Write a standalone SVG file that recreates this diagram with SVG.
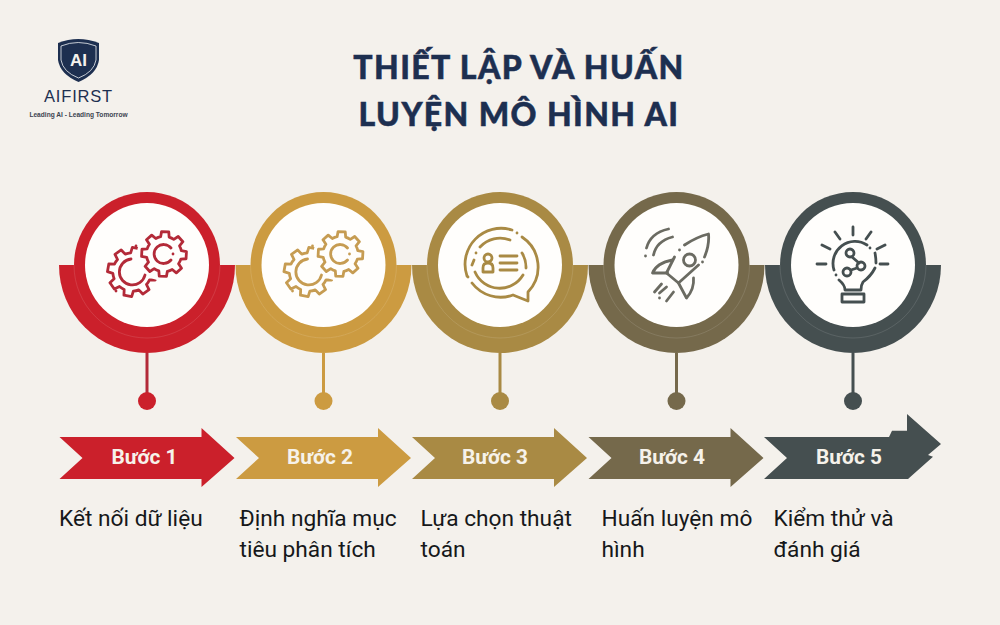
<svg xmlns="http://www.w3.org/2000/svg" width="1000" height="625" viewBox="0 0 1000 625">
<style>
.title{font-family:"Lato","Liberation Sans",sans-serif;font-weight:900;font-size:32px;fill:#1d2f50;stroke:#1d2f50;stroke-width:.5px;text-anchor:middle;letter-spacing:1.4px}
.step{font-family:"Roboto","Liberation Sans",sans-serif;font-weight:700;font-size:20.800px;fill:#f6f2ea;text-anchor:middle}
.desc{font-family:"Roboto","Liberation Sans",sans-serif;font-size:22.700px;fill:#16181a}
.white{fill:#fffefc}
.hair{fill:none;stroke:#fff;stroke-opacity:.2;stroke-width:.6}
.ico{fill:none;stroke-width:2.800;stroke-linecap:round;stroke-linejoin:round}
.s1{fill:#cb202b;stroke:#cb202b;color:#cb202b}
.s2{fill:#cc9b41;stroke:#cc9b41;color:#cc9b41}
.s3{fill:#a98a44;stroke:#a98a44;color:#a98a44}
.s4{fill:#75694b;stroke:#75694b;color:#75694b}
.s5{fill:#454f50;stroke:#454f50;color:#454f50}
#connectors line{stroke-width:3}
</style>
<defs>
<path id="half" d="M-88,0A88,88 0 0 0 88,0Z" stroke="none"/>
<path id="arrow" d="M0,0H142V-9L175,21L142,50V42H0L23,21Z" stroke="none"/>
<path id="gear" vector-effect="non-scaling-stroke" d="M-19,-76L-16,-99H16L19,-76A78,78 0 0 1 40,-67L59,-81L81,-59L67,-40A78,78 0 0 1 76,-19L99,-16V16L76,19A78,78 0 0 1 67,40L81,59L59,81L40,67A78,78 0 0 1 19,76L16,99H-16L-19,76A78,78 0 0 1 -40,67L-59,81L-81,59L-67,40A78,78 0 0 1 -76,19L-99,16V-16L-76,-19A78,78 0 0 1 -67,-40L-81,-59L-59,-81L-40,-67A78,78 0 0 1 -19,-76Z"/>
<g id="gears" class="ico">
<use href="#gear" transform="translate(-15,7) rotate(10) scale(.245)"/>
<circle cx="17" cy="-11" r="27" fill="#fffefc" stroke="none"/>
<use href="#gear" transform="translate(17,-11) rotate(3) scale(.225)"/>
<path d="M-16,-6A13,13 0 1 0 -2,10M24,-17A9.500,9.500 0 1 0 24,-5"/>
<path d="M-11,-19h.01M-31,26h.01M26,-11h.01"/>
</g>
</defs>
<rect width="1000" height="625" fill="#f4f1ec"/>

<g id="logo">
<path d="M58,43Q78,35 99,43V60Q97,74 78.500,82Q60,74 58,60Z" fill="#1d2f50"/>
<path d="M61,46Q78,39 96,46V60Q94,72 78.500,78Q63,72 61,60Z" fill="none" stroke="#eef0f2" stroke-width=".8"/>
<text x="78.500" y="66" font-family="Liberation Sans,sans-serif" font-weight="700" font-size="17" fill="#f4f1ec" text-anchor="middle">AI</text>
<text x="78.500" y="102" font-family="Liberation Sans,sans-serif" font-size="16.500" fill="#1d2f50" text-anchor="middle" letter-spacing=".8">AIFIRST</text>
<text x="78.500" y="117" font-family="Liberation Sans,sans-serif" font-weight="700" font-size="6.600" fill="#3c4450" text-anchor="middle">Leading AI - Leading Tomorrow</text>
</g>

<g id="title">
<text class="title" x="519" y="79">THIẾT LẬP VÀ HUẤN</text>
<text class="title" x="519" y="126">LUYỆN MÔ HÌNH AI</text>
</g>

<g id="connectors">
<line class="s1" x1="147" y1="353" x2="147" y2="396" style="stroke:#b32a38"/>
<line class="s2" x1="323.500" y1="353" x2="323.500" y2="396"/>
<line class="s3" x1="500" y1="353" x2="500" y2="396"/>
<line class="s4" x1="676.500" y1="353" x2="676.500" y2="396"/>
<line class="s5" x1="853" y1="353" x2="853" y2="396"/>
</g>

<g id="step1">
<g class="s1">
<use href="#half" transform="translate(147,265)"/>
<circle cx="147" cy="265" r="73" stroke="none"/>
<path class="hair" d="M74,265A73,73 0 0 0 220,265"/>
<circle class="white" cx="147" cy="265" r="62" stroke="none"/>
<circle cx="147" cy="401" r="9" stroke="none"/>
<use href="#arrow" transform="translate(59.500,437)"/>
</g>
<use href="#gears" transform="translate(147,265)" fill="none" stroke="#b32a38"/>
<text class="step" x="144.500" y="463.500">Bước 1</text>
<text class="desc" x="59" y="526">Kết nối dữ liệu</text>
</g>

<g id="step2">
<g class="s2">
<use href="#half" transform="translate(323.500,265)"/>
<circle cx="323.500" cy="265" r="73" stroke="none"/>
<path class="hair" d="M250.500,265A73,73 0 0 0 396.500,265"/>
<circle class="white" cx="323.500" cy="265" r="62" stroke="none"/>
<circle cx="323.500" cy="401" r="9" stroke="none"/>
<use href="#arrow" transform="translate(236,437)"/>
</g>
<use href="#gears" transform="translate(323.500,265)" fill="none" stroke="#c69c52"/>
<text class="step" x="320" y="463.500">Bước 2</text>
<text class="desc" x="239.500" y="526">Định nghĩa mục</text>
<text class="desc" x="239.500" y="557">tiêu phân tích</text>
</g>

<g id="step3">
<g class="s3">
<use href="#half" transform="translate(500,265)"/>
<circle cx="500" cy="265" r="73" stroke="none"/>
<path class="hair" d="M427,265A73,73 0 0 0 573,265"/>
<circle class="white" cx="500" cy="265" r="62" stroke="none"/>
<circle cx="500" cy="401" r="9" stroke="none"/>
<use href="#arrow" transform="translate(412,437)"/>
</g>
<g class="ico" transform="translate(500,265)" stroke="#a98a44">
<path d="M12,-35A36,36 0 0 0 -33,11M22,-28A36,36 0 0 1 28,27V36L13,30A36,36 0 0 1 -28,18"/>
<path d="M17,-32h.01M-32,12h.01M-24,-12h.01"/>
<path d="M-20,-18A27,27 0 0 1 10,-25M22,-12A27,27 0 0 1 26,3M23,10A27,27 0 0 1 -25,7M-28,0L-26,-5"/>
<circle cx="-12" cy="-7" r="4"/>
<path d="M-17,7V3Q-17,-2 -12,-2Q-7,-2 -7,3V7Z"/>
<path d="M0,-9H17M0,-2H17M0,5H17"/>
</g>
<text class="step" x="495" y="463.500">Bước 3</text>
<text class="desc" x="420.500" y="526">Lựa chọn thuật</text>
<text class="desc" x="420.500" y="557">toán</text>
</g>

<g id="step4">
<g class="s4">
<use href="#half" transform="translate(676.500,265)"/>
<circle cx="676.500" cy="265" r="73" stroke="none"/>
<path class="hair" d="M603.500,265A73,73 0 0 0 749.500,265"/>
<circle class="white" cx="676.500" cy="265" r="62" stroke="none"/>
<circle cx="676.500" cy="401" r="9" stroke="none"/>
<use href="#arrow" transform="translate(588.500,437)"/>
</g>
<g class="ico" transform="translate(676.500,265)" stroke="#6b6b62">
<path d="M8,-20Q20,-28 32,-31Q33,-20 28,-8M22,0L2,18L-10,8L-2,-8"/>
<path d="M3,-15h.01M26,-3h.01M-31,-9h.01M-17,33h.01"/>
<path d="M-4,-5Q-20,-2 -24,8L-9,8M17,13Q18,24 10,33L2,18"/>
<circle cx="13" cy="-5" r="6"/>
<path d="M-8,-36Q-26,-32 -30,-17M-4,-28Q-20,-24 -23,-10"/>
<path d="M-15,19L-22,27M-10,22L-17,28M-3,27L-10,36"/>
</g>
<text class="step" x="672" y="463.500">Bước 4</text>
<text class="desc" x="601.500" y="526">Huấn luyện mô</text>
<text class="desc" x="601.500" y="557">hình</text>
</g>

<g id="step5">
<g class="s5">
<use href="#half" transform="translate(853,265)"/>
<circle cx="853" cy="265" r="73" stroke="none"/>
<path class="hair" d="M780,265A73,73 0 0 0 926,265"/>
<circle class="white" cx="853" cy="265" r="62" stroke="none"/>
<circle cx="853" cy="401" r="9" stroke="none"/>
<path stroke="none" d="M764,437H889L892,430.700H907V414L941,444L928,455L933,456.700L908,479H764L787,458Z"/>
</g>
<g class="ico" transform="translate(853,265)" stroke="#454f50">
<path d="M0,-38V-30M-18,-33L-13,-26M18,-33L13,-26M-31,-20L-23,-16M32,-20L24,-16M-36,-1H-27M27,-1H35"/>
<path d="M14,-20A22,22 0 0 0 -19,5M22,-12Q23,-7 23,-2M22,3Q18,11 10,17Q8,20 8,25M-14,15Q-8,20 -8,25H8"/>
<path d="M-17,10h.01M17,-17h.01"/>
<rect x="-11" y="29" width="22" height="8"/>
<circle cx="-3" cy="-12" r="4"/>
<circle cx="8" cy="1" r="4"/>
<circle cx="-6" cy="7" r="4"/>
<path d="M-1,-8L6,-2M4,3L-2,5"/>
</g>
<text class="step" x="849" y="463.500">Bước 5</text>
<text class="desc" x="773.500" y="526">Kiểm thử và</text>
<text class="desc" x="773.500" y="557">đánh giá</text>
</g>
</svg>
